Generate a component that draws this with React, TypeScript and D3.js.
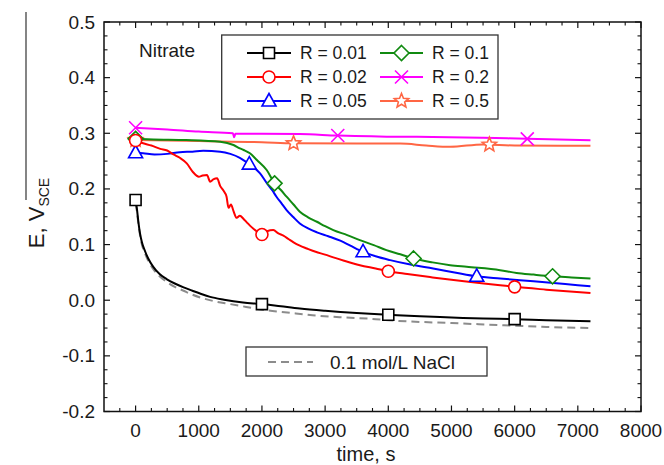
import React from "react";
import * as d3 from "d3";

// ---- data ----
const tR001 = [0, 20, 45, 70, 100, 150, 200, 280, 380, 490, 620, 760, 900, 1020, 1180, 1400, 1700, 2000, 2300, 2600, 3000, 3500, 4000, 4500, 5000, 5500, 6000, 6500, 7200];
const vR001 = [0.18, 0.165, 0.14, 0.12, 0.104, 0.088, 0.075, 0.06, 0.047, 0.038, 0.03, 0.023, 0.017, 0.012, 0.006, 0.001, -0.004, -0.007, -0.011, -0.015, -0.019, -0.023, -0.026, -0.029, -0.031, -0.033, -0.034, -0.036, -0.038];

const tNaCl = [0, 20, 45, 70, 100, 150, 200, 280, 380, 490, 620, 760, 900, 1050, 1250, 1500, 1750, 2000, 2400, 2800, 3300, 3800, 4000, 4500, 5000, 5800, 6500, 7200];
const vNaCl = [0.175, 0.16, 0.137, 0.117, 0.1, 0.084, 0.071, 0.056, 0.043, 0.033, 0.024, 0.017, 0.01, 0.004, -0.002, -0.007, -0.012, -0.017, -0.022, -0.027, -0.031, -0.034, -0.036, -0.039, -0.041, -0.045, -0.048, -0.05];

const tR002 = [0, 120, 250, 390, 500, 600, 700, 810, 910, 1000, 1060, 1130, 1180, 1230, 1290, 1340, 1390, 1440, 1470, 1510, 1550, 1600, 1650, 1710, 1760, 1810, 1870, 1940, 2000, 2080, 2180, 2260, 2340, 2420, 2500, 2600, 2710, 2850, 3000, 3130, 3300, 3550, 3800, 4000, 4300, 4700, 5200, 5770, 6000, 6500, 7200];
const vR002 = [0.287, 0.282, 0.278, 0.272, 0.269, 0.262, 0.256, 0.246, 0.23, 0.222, 0.224, 0.225, 0.213, 0.217, 0.219, 0.205, 0.197, 0.186, 0.166, 0.172, 0.16, 0.148, 0.152, 0.146, 0.14, 0.134, 0.128, 0.122, 0.118, 0.124, 0.126, 0.12, 0.116, 0.11, 0.104, 0.098, 0.093, 0.087, 0.082, 0.077, 0.071, 0.063, 0.057, 0.052, 0.047, 0.041, 0.034, 0.027, 0.024, 0.019, 0.013];

const tR005 = [0, 120, 300, 500, 700, 900, 1070, 1340, 1500, 1650, 1800, 1900, 1970, 2080, 2160, 2230, 2310, 2390, 2500, 2600, 2730, 2870, 3050, 3240, 3400, 3600, 3800, 4030, 4350, 4710, 5050, 5400, 5770, 6300, 6800, 7200];
const vR005 = [0.265, 0.264, 0.262, 0.263, 0.266, 0.267, 0.2685, 0.267, 0.263, 0.256, 0.2446, 0.236, 0.228, 0.21, 0.198, 0.186, 0.174, 0.162, 0.149, 0.138, 0.129, 0.122, 0.115, 0.107, 0.098, 0.087, 0.079, 0.072, 0.064, 0.057, 0.05, 0.043, 0.039, 0.034, 0.029, 0.025];

const tR01 = [0, 280, 800, 1340, 1550, 1650, 1710, 1810, 1920, 2075, 2200, 2300, 2390, 2500, 2600, 2730, 2870, 3000, 3130, 3350, 3550, 3770, 3970, 4190, 4400, 4700, 4980, 5240, 5770, 6030, 6300, 6600, 6900, 7200];
const vR01 = [0.29, 0.289, 0.288, 0.285, 0.279, 0.273, 0.27, 0.264, 0.252, 0.234, 0.21, 0.198, 0.186, 0.172, 0.159, 0.149, 0.141, 0.133, 0.126, 0.117, 0.108, 0.099, 0.09, 0.0826, 0.075, 0.068, 0.063, 0.06, 0.054, 0.049, 0.046, 0.043, 0.041, 0.039];

const tR02 = [0, 500, 1000, 1540, 1560, 1580, 2000, 2600, 3200, 4200, 4700, 5500, 6200, 7200];
const vR02 = [0.31, 0.307, 0.303, 0.3, 0.293, 0.299, 0.299, 0.2985, 0.296, 0.2937, 0.2935, 0.292, 0.29, 0.2877];

const tR05 = [0, 1000, 2000, 2500, 3500, 4190, 4600, 4980, 5500, 6000, 7200];
const vR05 = [0.288, 0.286, 0.284, 0.282, 0.2815, 0.2815, 0.278, 0.2757, 0.28, 0.278, 0.2775];

const mR001 = [0, 2000, 4000, 6000];
const mR002 = [0, 2000, 4000, 6000];
const mR005 = [0, 1800, 3600, 5400];
const mR01 = [0, 2200, 4400, 6600];
const mR02 = [0, 3200, 6200];
const mR05 = [0, 2500, 5600];

const xTickValues = [0, 1000, 2000, 3000, 4000, 5000, 6000, 7000, 8000];
const xTickLabels = ["0", "1000", "2000", "3000", "4000", "5000", "6000", "7000", "8000"];
const yTickValues = [-0.2, -0.1, 0, 0.1, 0.2, 0.3, 0.4, 0.5];
const yTickLabels = ["-0.2", "-0.1", "0.0", "0.1", "0.2", "0.3", "0.4", "0.5"];

const seriesNames = ["R = 0.01", "R = 0.02", "R = 0.05", "R = 0.1", "R = 0.2", "R = 0.5"];

type Shape = "square" | "circle" | "triangle" | "diamond" | "x" | "star";

const FONT = "'Liberation Sans', Arial, Helvetica, sans-serif";

function markerPath(shape: Shape): string {
  switch (shape) {
    case "square":
      return "M-5.5,-5.5H5.5V5.5H-5.5Z";
    case "circle":
      return d3.symbol().type(d3.symbolCircle).size(Math.PI * 36)() as string;
    case "triangle":
      return "M0,-7.5L7,5L-7,5Z";
    case "diamond":
      return "M0,-7.5L7.5,0L0,7.5L-7.5,0Z";
    case "x":
      return "M-6.5,-6.5L6.5,6.5M-6.5,6.5L6.5,-6.5";
    case "star": {
      const pts: [number, number][] = [];
      for (let i = 0; i < 10; i++) {
        const r = i % 2 === 0 ? 7.5 : 3.3;
        const a = -Math.PI / 2 + (i * Math.PI) / 5;
        pts.push([r * Math.cos(a), r * Math.sin(a)]);
      }
      return "M" + pts.map((p) => p[0].toFixed(2) + "," + p[1].toFixed(2)).join("L") + "Z";
    }
  }
}

export default function App() {
  const W = 664, H = 465;
  const left = 104, right = 641, top = 22, bottom = 411.5;
  const x = d3.scaleLinear().domain([-500, 8000]).range([left, right]);
  const y = d3.scaleLinear().domain([-0.2, 0.5]).range([bottom, top]);

  const line = d3
    .line<[number, number]>()
    .x((d) => x(d[0]))
    .y((d) => y(d[1]))
    .curve(d3.curveMonotoneX);

  const zip = (t: number[], v: number[]) => t.map((ti, i) => [ti, v[i]] as [number, number]);
  const interp = (t: number[], v: number[]) => d3.scaleLinear().domain(t).range(v);

  const series = [
    { name: seriesNames[0], t: tR001, v: vR001, m: mR001, color: "#000000", shape: "square" as Shape },
    { name: seriesNames[1], t: tR002, v: vR002, m: mR002, color: "#ff0000", shape: "circle" as Shape },
    { name: seriesNames[2], t: tR005, v: vR005, m: mR005, color: "#0000ff", shape: "triangle" as Shape },
    { name: seriesNames[3], t: tR01, v: vR01, m: mR01, color: "#108a10", shape: "diamond" as Shape },
    { name: seriesNames[4], t: tR02, v: vR02, m: mR02, color: "#ff00ff", shape: "x" as Shape },
    { name: seriesNames[5], t: tR05, v: vR05, m: mR05, color: "#ff6644", shape: "star" as Shape },
  ];

  const xMinor = d3.range(-250, 8000, 250).filter((t) => t % 1000 !== 0);
  const yMinor = d3.range(-0.2, 0.5001, 0.025).filter((v) => Math.abs(Math.round(v * 10) - v * 10) > 0.01);

  const drawOrder = [5, 4, 3, 2, 1, 0];

  const Marker = ({ shape, color, cx, cy }: { shape: Shape; color: string; cx: number; cy: number }) => (
    <path
      d={markerPath(shape)}
      transform={`translate(${cx},${cy})`}
      fill={shape === "x" ? "none" : "#ffffff"}
      stroke={color}
      strokeWidth={1.6}
    />
  );

  const legendRows = [53, 77, 101];

  return (
    <svg width={W} height={H} style={{ position: "absolute", left: 0, top: 0, background: "#fff" }} fontFamily={FONT}>
      <rect x={0} y={0} width={W} height={H} fill="#fff" />
      {/* artifact line at left */}
      <line x1={26} y1={12} x2={26} y2={200} stroke="#333" strokeWidth={1.2} />

      {/* NaCl reference dashed */}
      <path d={line(zip(tNaCl, vNaCl)) as string} fill="none" stroke="#8c8c8c" strokeWidth={2} strokeDasharray="8,5" />

      {/* series lines */}
      {drawOrder.map((i) => {
        const s = series[i];
        return <path key={"l" + i} d={line(zip(s.t, s.v)) as string} fill="none" stroke={s.color} strokeWidth={2} />;
      })}
      {/* markers */}
      {drawOrder.map((i) => {
        const s = series[i];
        const f = interp(s.t, s.v);
        return (
          <g key={"m" + i}>
            {s.m.map((t) => (
              <Marker key={t} shape={s.shape} color={s.color} cx={x(t)} cy={y(f(t))} />
            ))}
          </g>
        );
      })}

      {/* frame */}
      <rect x={left} y={top} width={right - left} height={bottom - top} fill="none" stroke="#111" strokeWidth={1.5} />

      {/* x ticks */}
      {xTickValues.map((t) => (
        <g key={"xt" + t}>
          <line x1={x(t)} x2={x(t)} y1={bottom} y2={bottom - 6} stroke="#111" strokeWidth={1.2} />
          <line x1={x(t)} x2={x(t)} y1={top} y2={top + 6} stroke="#111" strokeWidth={1.2} />
        </g>
      ))}
      {xMinor.map((t) => (
        <g key={"xm" + t}>
          <line x1={x(t)} x2={x(t)} y1={bottom} y2={bottom - 3.5} stroke="#111" strokeWidth={1.1} />
          <line x1={x(t)} x2={x(t)} y1={top} y2={top + 3.5} stroke="#111" strokeWidth={1.1} />
        </g>
      ))}
      {xTickValues.map((t, i) => (
        <text key={"xl" + t} x={x(t)} y={437} fontSize={19} textAnchor="middle" fill="#1a1a1a">
          {xTickLabels[i]}
        </text>
      ))}

      {/* y ticks */}
      {yTickValues.map((v) => (
        <g key={"yt" + v}>
          <line x1={left} x2={left + 6} y1={y(v)} y2={y(v)} stroke="#111" strokeWidth={1.2} />
          <line x1={right} x2={right - 6} y1={y(v)} y2={y(v)} stroke="#111" strokeWidth={1.2} />
        </g>
      ))}
      {yMinor.map((v) => (
        <g key={"ym" + v}>
          <line x1={left} x2={left + 3.5} y1={y(v)} y2={y(v)} stroke="#111" strokeWidth={1.1} />
          <line x1={right} x2={right - 3.5} y1={y(v)} y2={y(v)} stroke="#111" strokeWidth={1.1} />
        </g>
      ))}
      {yTickLabels.map((lab, i) => (
        <text key={"yl" + lab} x={95} y={y(yTickValues[i]) + 6.5} fontSize={19} textAnchor="end" fill="#1a1a1a">
          {lab}
        </text>
      ))}

      {/* axis titles */}
      <text x={366} y={461} fontSize={20} textAnchor="middle" fill="#1a1a1a">
        time, s
      </text>
      <text transform="translate(44,213) rotate(-90)" fontSize={22} textAnchor="middle" fill="#1a1a1a">
        E, V
        <tspan fontSize={14} dy={5}>SCE</tspan>
      </text>

      {/* Nitrate label */}
      <text x={139} y={57} fontSize={19} fill="#1a1a1a">
        Nitrate
      </text>

      {/* main legend */}
      <rect x={221.7} y={35} width={276.3} height={84} fill="#fff" stroke="#333" strokeWidth={1.3} />
      {series.map((s, i) => {
        const col = i < 3 ? 0 : 1;
        const row = i % 3;
        const ly = legendRows[row];
        const x0 = col === 0 ? 247 : 380;
        const x1 = col === 0 ? 291 : 423;
        const tx = col === 0 ? 300 : 432;
        return (
          <g key={"lg" + i}>
            <line x1={x0} x2={x1} y1={ly} y2={ly} stroke={s.color} strokeWidth={2} />
            <Marker shape={s.shape} color={s.color} cx={(x0 + x1) / 2} cy={ly} />
            <text x={tx} y={ly + 6.3} fontSize={17.5} fill="#1a1a1a">
              {s.name}
            </text>
          </g>
        );
      })}

      {/* NaCl legend */}
      <rect x={246} y={347} width={241} height={29} fill="#fff" stroke="#333" strokeWidth={1.3} />
      <line x1={268} x2={313} y1={362} y2={362} stroke="#8c8c8c" strokeWidth={2} strokeDasharray="8,5" />
      <text x={330} y={368.5} fontSize={19} fill="#1a1a1a">
        0.1 mol/L NaCl
      </text>
    </svg>
  );
}
